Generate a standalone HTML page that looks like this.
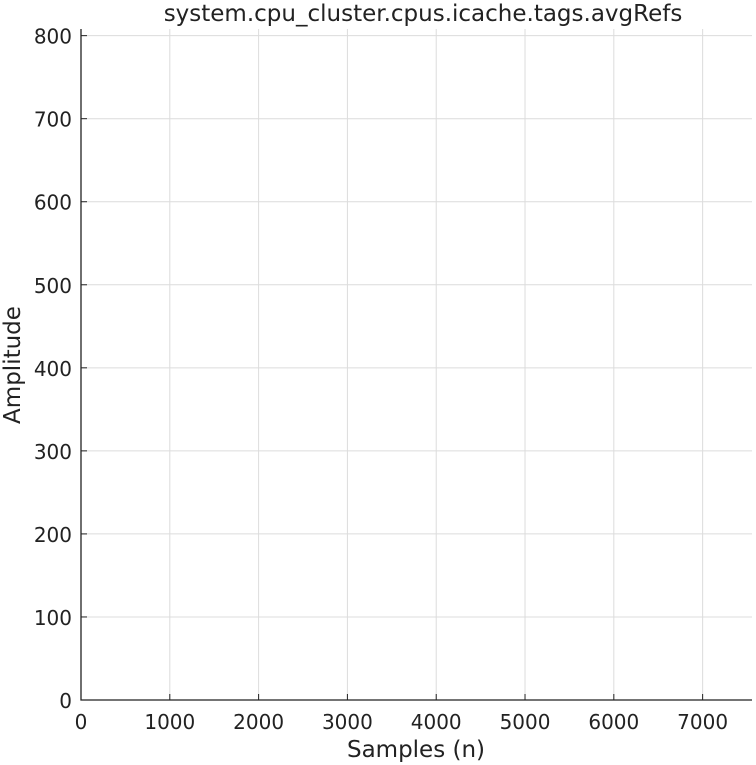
<!DOCTYPE html>
<html><head><meta charset="utf-8"><style>
body{margin:0;background:#fff;}
svg{display:block;font-family:"DejaVu Sans","Liberation Sans",sans-serif;}
</style></head><body>
<svg id="chart" width="756" height="765">
<text x="423" y="21" font-size="23" text-anchor="middle" fill="#222">system.cpu_cluster.cpus.icache.tags.avgRefs</text>
<g id="grid"></g>
<g id="series"></g>
<g id="axes"></g>
<text x="416" y="757" font-size="23" text-anchor="middle" fill="#222">Samples (n)</text>
<text transform="translate(20,365) rotate(-90)" font-size="23" text-anchor="middle" fill="#222">Amplitude</text>
</svg>
<script>
const xTicks=[0,1000,2000,3000,4000,5000,6000,7000];
const yTicks=[0,100,200,300,400,500,600,700,800];
const sampleIdx=[];
const amplitude=[];
const X0=81,X1=752,Y0=700,Y1=29,XMAX=7556,YMAX=808;
const sx=v=>X0+(v/XMAX)*(X1-X0);
const sy=v=>Y0-(v/YMAX)*(Y0-Y1);
const NS="http://www.w3.org/2000/svg";
const grid=document.getElementById('grid'),axes=document.getElementById('axes'),ser=document.getElementById('series');
function mk(t,a,p){const e=document.createElementNS(NS,t);for(const k in a)e.setAttribute(k,a[k]);p.appendChild(e);return e;}
xTicks.forEach(v=>{
 if(v>0){const g=mk('line',{x1:sx(v),x2:sx(v),y1:Y1,y2:Y0,stroke:'#dcdcdc','stroke-width':1},grid);
 
 
 const tk=mk('line',{x1:sx(v),x2:sx(v),y1:Y0,y2:Y0-6,stroke:'#222','stroke-width':1},axes);
 
 }
 const t=mk('text',{x:sx(v),y:Y0+29,'font-size':20,'text-anchor':'middle',fill:'#222'},axes);
 t.textContent=v;
 
 
});
yTicks.forEach(v=>{
 if(v>0){const g=mk('line',{x1:X0,x2:X1,y1:sy(v),y2:sy(v),stroke:'#dcdcdc','stroke-width':1},grid);
 
 
 const tk=mk('line',{x1:X0,x2:X0+6,y1:sy(v),y2:sy(v),stroke:'#222','stroke-width':1},axes);
 
 }
 const t=mk('text',{x:X0-9,y:sy(v)+8,'font-size':20,'text-anchor':'end',fill:'#222'},axes);
 t.textContent=v;
 
 
});
const ax=mk('path',{d:`M${X0},${Y1}V${Y0}H${X1}`,fill:'none',stroke:'#222','stroke-width':1.3},axes);


if(sampleIdx.length){
 const d=sampleIdx.map((x,i)=>(i?'L':'M')+sx(x)+','+sy(amplitude[i])).join('');
 const l=mk('path',{d:d,fill:'none',stroke:'#0072bd','stroke-width':1.5},ser);
 
 
}
</script>
</body></html>
